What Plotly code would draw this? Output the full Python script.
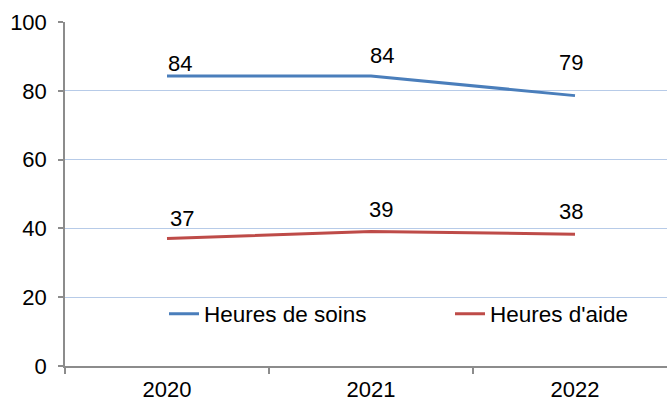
import plotly.graph_objects as go

years = ["2020", "2021", "2022"]
soins = [84.3, 84.3, 78.6]
aide = [37.1, 39.1, 38.3]
soins_labels = ["84", "84", "79"]
aide_labels = ["37", "39", "38"]
y_ticks = [0, 20, 40, 60, 80, 100]

BLUE = "#4A7EBB"
RED = "#BE4B48"
FONT = "Liberation Sans, Arial, sans-serif"
FS = 22

L, R, T, B = 65, 0, 22, 37
W, H = 667, 403
PW = W - L - R
PH = H - T - B

fig = go.Figure()
fig.add_trace(go.Scatter(x=years, y=soins, mode="lines", name="Heures de soins",
                         line=dict(color=BLUE, width=3), legend="legend"))
fig.add_trace(go.Scatter(x=years, y=aide, mode="lines", name="Heures d'aide",
                         line=dict(color=RED, width=3), legend="legend2"))

# data labels (manual label offsets, like the original)
soins_shift = [(13, 13), (11, 21), (-4, 33)]
aide_shift = [(15, 20), (10, 22), (-4, 23)]
for ys, labs, shifts in [(soins, soins_labels, soins_shift),
                         (aide, aide_labels, aide_shift)]:
    for i, (y, t, (dx, dy)) in enumerate(zip(ys, labs, shifts)):
        fig.add_annotation(x=i, y=y, xref="x", yref="y", text=t, showarrow=False,
                           xshift=dx, yshift=dy,
                           font=dict(family=FONT, size=FS, color="#000000"))

leg_y = (H - B - 314) / PH
leg_common = dict(orientation="h", y=leg_y, xanchor="left", yanchor="middle",
                  bgcolor="rgba(0,0,0,0)", borderwidth=0,
                  font=dict(family=FONT, size=22.5, color="#000000"))

fig.update_layout(
    width=W, height=H,
    margin=dict(l=L, r=R, t=T, b=B, autoexpand=False),
    paper_bgcolor="white", plot_bgcolor="white",
    font=dict(family=FONT, size=FS, color="#000000"),
    showlegend=True,
    legend=dict(x=(204 - 40 - L) / PW, **leg_common),
    legend2=dict(x=(490 - 40 - L) / PW, **leg_common),
)
fig.update_xaxes(type="category", range=[-0.5, 2.451], showgrid=False, automargin=False,
                 showline=True, linecolor="#8C8C8C", linewidth=1.5,
                 ticks="outside", tickson="boundaries", ticklen=6, tickcolor="#8C8C8C",
                 tickwidth=1.5, ticklabelstandoff=3,
                 tickfont=dict(family=FONT, size=FS, color="#000000"))
fig.update_yaxes(range=[0, 100], tickvals=y_ticks, showgrid=True, gridcolor="#B7CBE8",
                 gridwidth=1.3, showline=True, linecolor="#8C8C8C", linewidth=1.5,
                 ticks="outside", ticklen=5, tickcolor="#8C8C8C", tickwidth=1.5,
                 zeroline=False, ticklabelstandoff=7, automargin=False,
                 tickfont=dict(family=FONT, size=FS, color="#000000"))

fig.write_html("out.html", config={"displayModeBar": False},
               post_script="document.body.style.margin='0';")
